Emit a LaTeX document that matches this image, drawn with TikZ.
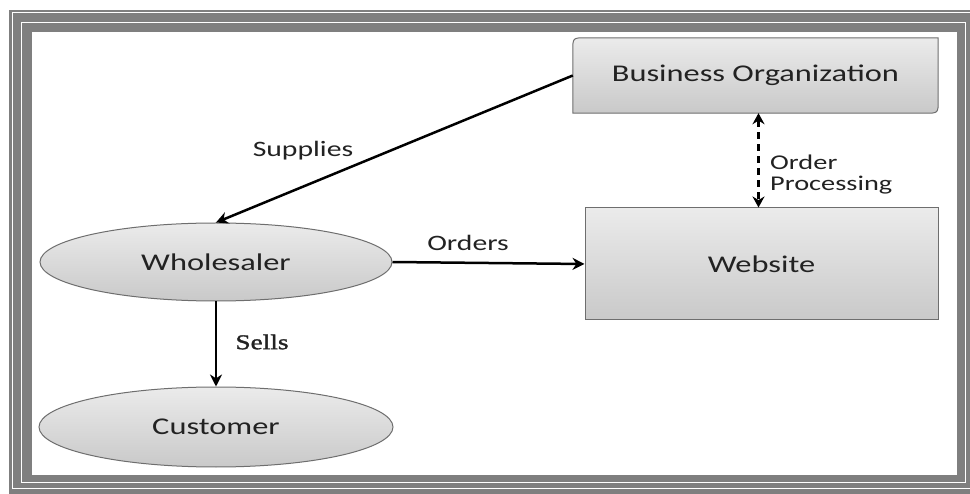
\documentclass[tikz,border=0pt]{standalone}
\usepackage{fontspec}
\usetikzlibrary{calc,arrows.meta,shapes.geometric}
\newfontfamily\diafont[FakeStretch=1.35]{Carlito}
\newfontfamily\diaserif[FakeStretch=1.3,FakeBold=1.5]{Liberation Serif}
\definecolor{framegray}{HTML}{7F7F7F}
\definecolor{boxedge}{HTML}{6E6E6E}
\definecolor{shadetop}{HTML}{EBEBEB}
\definecolor{shadebot}{HTML}{C9C9C9}
\definecolor{inktext}{HTML}{222222}
\tikzset{
  boxnode/.style={rectangle, inner sep=0pt, text=inktext,
    font=\diafont\fontsize{24}{28}\selectfont},
  boxfill/.style={draw=boxedge, line width=1pt, top color=shadetop, bottom color=shadebot},
  ovalnode/.style={ellipse, inner sep=0pt, draw=boxedge, line width=1pt,
    top color=shadetop, bottom color=shadebot, text=inktext,
    font=\diafont\fontsize{24}{28}\selectfont},
  flow/.style={draw=black, line width=2.5pt, -{Stealth[length=12pt,width=12pt]}},
  twoway/.style={draw=black, line width=2.6pt, dash pattern=on 7pt off 5pt,
    {Stealth[length=11pt,width=12pt]}-{Stealth[length=11pt,width=12pt]}},
  lbl/.style={inner sep=0pt, text=inktext, font=\diafont\fontsize{22}{26}\selectfont}
}
\begin{document}
\begin{tikzpicture}[x=1pt,y=-1pt]
\useasboundingbox (0,0) rectangle (970,494);
% double frame
\fill[framegray] (9,10) rectangle (970,494);
\draw[white, line width=1.2pt] (12.5,12.5) rectangle (975,488.5);
\draw[white, line width=1.2pt] (21.5,22.5) rectangle (965.8,482.5);
\fill[white] (32,32) rectangle (957,475);

% nodes
\node[boxnode, minimum width=365pt, minimum height=75pt] (bo) at (755.5,75.5) {};
\path[boxfill] ($(bo.north west)+(0,13)$) .. controls (bo.north west) .. ($(bo.north west)+(13,0)$)
  -- (bo.north east) -- ($(bo.south east)+(0,-13)$) .. controls (bo.south east) .. ($(bo.south east)+(-13,0)$)
  -- (bo.south west) -- cycle;
\node[boxnode] (botext) at (bo.center) {Business Organization};

\node[boxnode, minimum width=353pt, minimum height=112pt, draw=boxedge, line width=1pt,
  top color=shadetop, bottom color=shadebot] (web) at (761.5,264) {Website};

\node[ovalnode, minimum width=352pt, minimum height=78pt] (wh) at (216,262) {Wholesaler};
\node[ovalnode, minimum width=354pt, minimum height=80pt] (cu) at (216,427) {Customer};

% connectors
\draw[flow] (bo.west) -- (wh.north);
\draw[flow] (wh.east) -- (web.west);
\draw[flow] (wh.south) -- (cu.north);
\coordinate (optop) at ($(bo.south)+(3,0)$);
\draw[twoway] (optop) -- (optop |- web.north);

% connector labels
\node[lbl] (lsup) at (303,151) {Supplies};
\node[lbl] (lord) at (468,243) {Orders};
\node[lbl, font=\diaserif\fontsize{21}{24}\selectfont] (lsel) at (262,342) {Sells};
\node[lbl, anchor=west, align=left, font=\diafont\fontsize{21}{21}\selectfont] (lop) at (770,174.5) {Order\\Processing};
\end{tikzpicture}
\end{document}
